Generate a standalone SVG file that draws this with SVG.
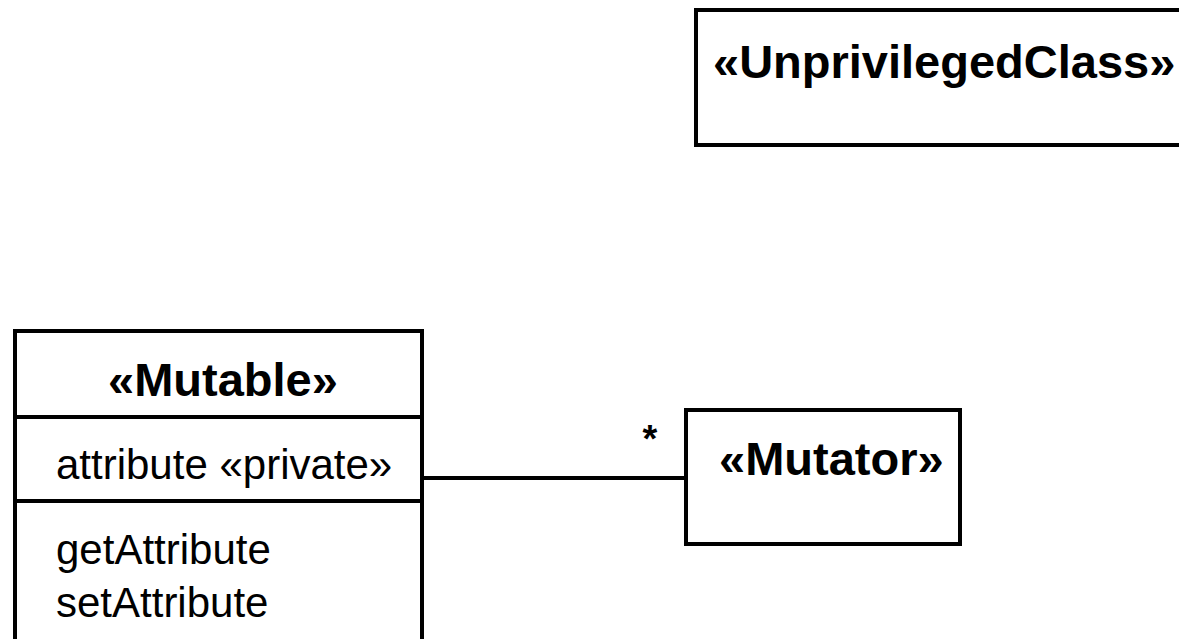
<svg xmlns="http://www.w3.org/2000/svg" width="1179" height="639" viewBox="0 0 1179 639">
  <style>
    .box { fill: #ffffff; stroke: #000000; stroke-width: 4; }
    .rule { stroke: #000000; stroke-width: 4; fill: none; }
    .title { font-family: "Liberation Sans", Arial, sans-serif; font-weight: bold; font-size: 47px; fill: #000000; }
    .item { font-family: "Liberation Sans", Arial, sans-serif; font-size: 42px; fill: #000000; }
    .mult { font-family: "Liberation Sans", Arial, sans-serif; font-weight: bold; font-size: 38px; fill: #000000; }
  </style>
  <rect x="0" y="0" width="1179" height="639" fill="#ffffff"/>

  <!-- association between Mutable and Mutator -->
  <g id="connectors">
    <line class="rule" x1="422" y1="478" x2="686" y2="478"/>
    <text class="mult" x="650" y="452" text-anchor="middle">*</text>
  </g>

  <g id="unprivileged-class">
    <rect class="box" x="696" y="10" width="520" height="135"/>
    <text class="title" x="713" y="78">«UnprivilegedClass»</text>
  </g>

  <g id="mutable">
    <rect class="box" x="15" y="331" width="407" height="340"/>
    <line class="rule" x1="15" y1="417" x2="422" y2="417"/>
    <line class="rule" x1="15" y1="501" x2="422" y2="501"/>
    <text class="title" x="108" y="396">«Mutable»</text>
    <text class="item" x="56" y="479">attribute «private»</text>
    <text class="item" x="56" y="564">getAttribute</text>
    <text class="item" x="56" y="617">setAttribute</text>
  </g>

  <g id="mutator">
    <rect class="box" x="686" y="410" width="274" height="134"/>
    <text class="title" x="719" y="475">«Mutator»</text>
  </g>
</svg>
